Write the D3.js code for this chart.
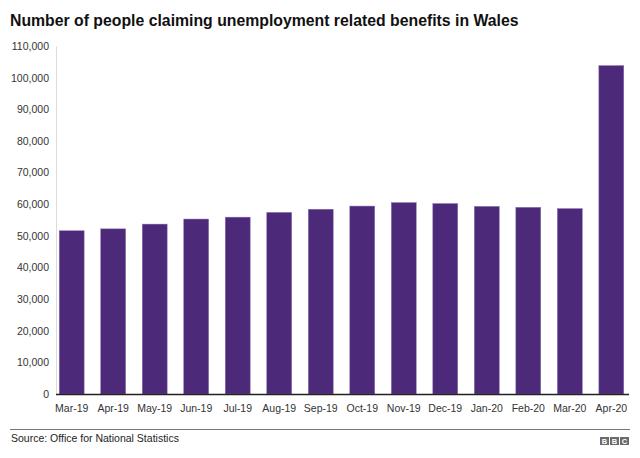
<!DOCTYPE html>
<html>
<head>
<meta charset="utf-8">
<script src="https://cdn.jsdelivr.net/npm/d3@7"></script>
<style>
  html, body { margin: 0; padding: 0; background: #fff; }
  svg { display: block; font-family: "Liberation Sans", Arial, Helvetica, sans-serif; }
</style>
</head>
<body>
<svg id="chart" width="640" height="458"></svg>
<script>
const categories = ["Mar-19","Apr-19","May-19","Jun-19","Jul-19","Aug-19","Sep-19","Oct-19","Nov-19","Dec-19","Jan-20","Feb-20","Mar-20","Apr-20"];
const claimants = [51600, 52200, 53700, 55300, 55900, 57400, 58400, 59400, 60500, 60200, 59300, 59000, 58600, 103800];
const yTicks = [0,10000,20000,30000,40000,50000,60000,70000,80000,90000,100000,110000];

const svg = d3.select("#chart");

const x = d3.scaleBand().domain(categories).range([53, 630]).paddingInner(0.4).paddingOuter(0.15);
const y = d3.scaleLinear().domain([0, 110000]).range([394, 46]);

// title
svg.append("text").attr("x", 10).attr("y", 26)
  .attr("font-size", 15.8).attr("font-weight", "bold").attr("fill", "#111")
  .text("Number of people claiming unemployment related benefits in Wales");

// y axis
const yAxis = d3.axisLeft(y).tickValues(yTicks).tickSize(0).tickPadding(7)
  .tickFormat(d => d3.format(",")(d));
const gy = svg.append("g").attr("transform", "translate(56,0)").call(yAxis);
gy.select(".domain").attr("stroke", "#dcdcdc").attr("stroke-width", 1);
gy.selectAll("text").attr("font-size", 10.5).attr("fill", "#333")
  .attr("font-family", "Liberation Sans, Arial, sans-serif");

// bars
svg.append("g").selectAll("rect").data(categories).join("rect")
  .attr("x", d => x(d))
  .attr("width", x.bandwidth())
  .attr("y", (d, i) => y(claimants[i]))
  .attr("height", (d, i) => y(0) - y(claimants[i]))
  .attr("fill", "#4c2a79")
  .attr("stroke", "#8a6fb0").attr("stroke-width", 0.5);

// x axis
const xAxis = d3.axisBottom(x).tickSize(0).tickPadding(11);
const gx = svg.append("g").attr("transform", `translate(0,${y(0)})`).call(xAxis);
gx.select(".domain").attr("d", "M56,0.5H629").attr("stroke", "#222").attr("stroke-width", 1.5);
gx.selectAll("text").attr("font-size", 10.5).attr("fill", "#333")
  .attr("font-family", "Liberation Sans, Arial, sans-serif");

// footer rule
svg.append("line").attr("x1", 10).attr("x2", 630).attr("y1", 429.5).attr("y2", 429.5)
  .attr("stroke", "#777").attr("stroke-width", 1);

svg.append("text").attr("x", 11).attr("y", 442)
  .attr("font-size", 10.5).attr("fill", "#222")
  .text("Source: Office for National Statistics");

// BBC blocks
const logo = svg.append("g").attr("transform", "translate(600,437)");
["B","B","C"].forEach((l, i) => {
  logo.append("rect").attr("x", i * 10).attr("y", 0).attr("width", 9).attr("height", 8).attr("fill", "#6b6b6b");
  logo.append("text").attr("x", i * 10 + 4.5).attr("y", 7).attr("text-anchor", "middle")
    .attr("font-size", 7.5).attr("font-weight", "bold").attr("fill", "#fff").text(l);
});
</script>
</body>
</html>
